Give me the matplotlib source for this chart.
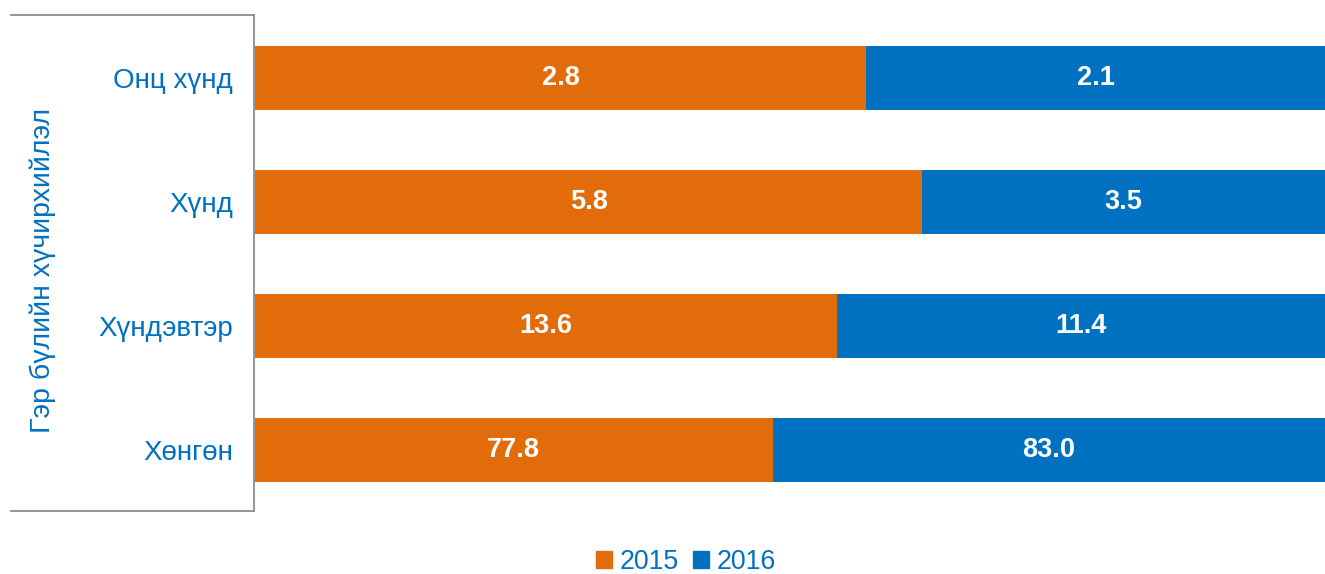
import matplotlib
matplotlib.use('Agg')
from matplotlib import pyplot as plt
from matplotlib.lines import Line2D
from matplotlib.patches import Patch

categories = ['Онц хүнд', 'Хүнд', 'Хүндэвтэр', 'Хөнгөн']
values_2015 = [2.8, 5.8, 13.6, 77.8]
values_2016 = [2.1, 3.5, 11.4, 83.0]
series_names = ['2015', '2016']

ORANGE = '#E36C0A'
BLUE = '#0070C0'
plt.rcParams['font.family'] = ['Liberation Sans', 'DejaVu Sans']

fig = plt.figure(figsize=(13.25, 5.74), dpi=100)
ax = fig.add_axes([255 / 1325, 1 - 512 / 574, 1 - 255 / 1325, 496 / 574])

# 100% stacked: each row is split by its share of the two years
totals = [a + b for a, b in zip(values_2015, values_2016)]
share_2015 = [a / t for a, t in zip(values_2015, totals)]
share_2016 = [b / t for b, t in zip(values_2016, totals)]
ypos = list(range(len(categories)))

bars1 = ax.barh(ypos, share_2015, height=0.51, color=ORANGE)
bars2 = ax.barh(ypos, share_2016, left=share_2015, height=0.51, color=BLUE)

for bars, vals in [(bars1, values_2015), (bars2, values_2016)]:
    for b, v in zip(bars, vals):
        ax.text(b.get_x() + b.get_width() / 2, b.get_y() + b.get_height() / 2,
                '{:.1f}'.format(v), ha='center', va='center',
                color='white', fontsize=19.5, fontweight='bold')

ax.set_xlim(0, 1)
ax.set_ylim(3.5, -0.5)
ax.set_yticks(ypos)
ax.set_yticklabels(categories, fontsize=20, color=BLUE)
ax.tick_params(axis='y', length=0, pad=16)
ax.set_xticks([])
for s in ax.spines.values():
    s.set_visible(False)

# grey frame around the category labels (open on the left)
frame = dict(color='#8c8c8c', lw=1.3, transform=fig.transFigure)
x0, x1 = 11 / 1325, 254 / 1325
yt, yb = 1 - 15 / 574, 1 - 511 / 574
fig.add_artist(Line2D([x0, x1], [yt, yt], **frame))
fig.add_artist(Line2D([x0, x1], [yb, yb], **frame))
fig.add_artist(Line2D([x1, x1], [yt, yb], **frame))

fig.text(43 / 1325, 1 - 270 / 574, 'Гэр бүлийн хүчирхийлэл', rotation=90,
         ha='center', va='center', fontsize=20.5, color=BLUE)

handles = [Patch(color=ORANGE), Patch(color=BLUE)]
leg = fig.legend(handles, series_names, loc='center', bbox_to_anchor=(686 / 1325, 1 - 562 / 574),
                 ncol=2, frameon=False, fontsize=19.3, handlelength=0.6, handleheight=0.6,
                 handletextpad=0.3, columnspacing=0.5)
for t in leg.get_texts():
    t.set_color(BLUE)

fig.savefig('out.png', dpi=100)
